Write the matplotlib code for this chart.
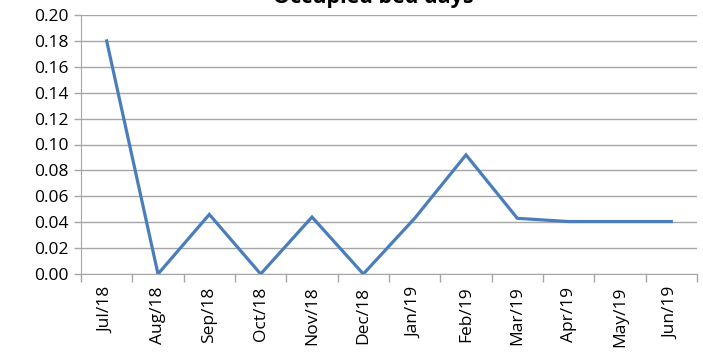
import matplotlib.pyplot as plt
import numpy as np

months = ['Jul/18', 'Aug/18', 'Sep/18', 'Oct/18', 'Nov/18', 'Dec/18',
          'Jan/19', 'Feb/19', 'Mar/19', 'Apr/19', 'May/19', 'Jun/19']
bed_days = [0.180, 0.000, 0.046, 0.000, 0.044, 0.000,
            0.043, 0.092, 0.043, 0.0405, 0.0405, 0.0405]
y_ticks = [0.00, 0.02, 0.04, 0.06, 0.08, 0.10, 0.12, 0.14, 0.16, 0.18, 0.20]

plt.rcParams['font.family'] = ['Open Sans', 'DejaVu Sans']

fig = plt.figure(figsize=(7.03, 3.55), dpi=100)
ax = fig.add_axes([81 / 703, 1 - 274 / 355, (697 - 81) / 703, (274 - 15) / 355])

x = np.arange(len(months))
ax.plot(x, bed_days, color='#4a7ebb', linewidth=2.3, solid_joinstyle='miter')

ax.set_xlim(-0.5, len(months) - 0.5)
ax.set_ylim(0, 0.20)
ax.set_yticks(y_ticks)
ax.set_yticklabels(['%.2f' % v for v in y_ticks], fontsize=12.5)
ax.yaxis.grid(True, color='#a6a6a6', linewidth=1)
ax.set_axisbelow(True)

# category labels at centres, tick marks at boundaries
ax.set_xticks(x)
ax.set_xticklabels(months, rotation=90, fontsize=12.5)
ax.tick_params(axis='x', length=0, pad=9)
ax.set_xticks(np.arange(-0.5, len(months)), minor=True)
ax.tick_params(axis='x', which='minor', length=6, color='#a6a6a6', width=1)
ax.tick_params(axis='y', length=5, color='#a6a6a6', width=1, pad=4)

for side in ['top', 'right']:
    ax.spines[side].set_visible(False)
ax.spines['left'].set_color('#a6a6a6')
ax.spines['bottom'].set_color('#a6a6a6')

fig.text(373 / 703, 1 - 3 / 355, 'Occupied bed days', ha='center', va='baseline',
         fontsize=15.5, fontweight='bold')

fig.savefig('out.png', dpi=100)
